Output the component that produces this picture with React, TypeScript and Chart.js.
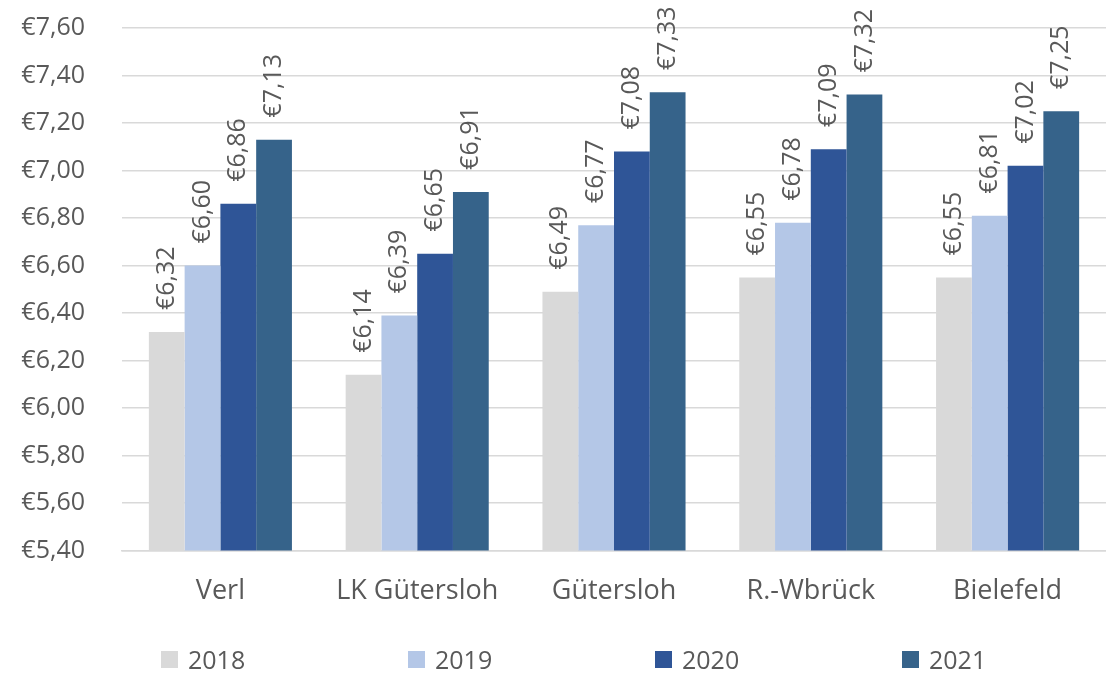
import React, { useEffect, useRef } from "react";
import { Chart, registerables } from "chart.js";

Chart.register(...registerables);

// Average hourly values per town, 2018–2021
const towns: string[] = ["Verl", "LK Gütersloh", "Gütersloh", "R.-Wbrück", "Bielefeld"];
const years: string[] = ["2018", "2019", "2020", "2021"];
const values2018: number[] = [6.32, 6.14, 6.49, 6.55, 6.55];
const values2019: number[] = [6.6, 6.39, 6.77, 6.78, 6.81];
const values2020: number[] = [6.86, 6.65, 7.08, 7.09, 7.02];
const values2021: number[] = [7.13, 6.91, 7.33, 7.32, 7.25];
const yearColors: string[] = ["#D9D9D9", "#B4C7E7", "#2F5597", "#36638A"];

const axisMin = 5.4;
const axisMax = 7.6;
const axisStep = 0.2;

const FONT = "'Open Sans', 'DejaVu Sans', sans-serif";
const TEXT = "#595959";

const euro = (v: number) => "€" + v.toFixed(2).replace(".", ",");

// Rotated value labels above each bar
const valueLabels = {
  id: "valueLabels",
  afterDatasetsDraw(chart: any) {
    const ctx = chart.ctx as CanvasRenderingContext2D;
    ctx.save();
    ctx.font = `25px ${FONT}`;
    ctx.fillStyle = TEXT;
    ctx.textAlign = "left";
    ctx.textBaseline = "middle";
    chart.data.datasets.forEach((ds: any, di: number) => {
      const meta = chart.getDatasetMeta(di);
      meta.data.forEach((bar: any, i: number) => {
        const v = ds.data[i] as number;
        ctx.save();
        ctx.translate(bar.x, bar.y - 22);
        ctx.rotate(-Math.PI / 2);
        ctx.fillText(euro(v), 0, 0);
        ctx.restore();
      });
    });
    ctx.restore();
  },
};

export default function App() {
  const canvasRef = useRef<HTMLCanvasElement | null>(null);

  useEffect(() => {
    if (!canvasRef.current) return;
    const series = [values2018, values2019, values2020, values2021];
    const chart = new Chart(canvasRef.current, {
      type: "bar",
      data: {
        labels: towns,
        datasets: years.map((y, i) => ({
          label: y,
          data: series[i],
          backgroundColor: yearColors[i],
          borderWidth: 0,
          barPercentage: 1,
          categoryPercentage: 0.727,
        })),
      },
      options: {
        responsive: false,
        animation: false,
        devicePixelRatio: 1,
        layout: { padding: { top: 28, right: 0, bottom: 40, left: 0 } },
        plugins: {
          legend: { display: false },
          tooltip: { enabled: false },
        },
        scales: {
          x: {
            grid: { display: false, drawTicks: false },
            border: { color: "#D9D9D9", width: 1.5 },
            ticks: {
              color: TEXT,
              font: { family: FONT, size: 27 },
              padding: 25,
              maxRotation: 0,
            },
          },
          y: {
            min: axisMin,
            max: axisMax,
            afterFit: (scale: any) => {
              scale.width = 122;
              scale.paddingTop = 0;
              scale.paddingBottom = 0;
            },
            grid: { color: "#D9D9D9", lineWidth: 1.5, drawTicks: false },
            border: { display: false },
            ticks: {
              stepSize: axisStep,
              color: TEXT,
              font: { family: FONT, size: 25 },
              padding: 37,
              callback: (v: any) => euro(Number(v)),
            },
          },
        },
      },
      plugins: [valueLabels],
    });
    return () => chart.destroy();
  }, []);

  return (
    <div
      style={{
        position: "absolute",
        left: 0,
        top: 0,
        width: 1106,
        height: 673,
        background: "#fff",
        overflow: "hidden",
      }}
    >
      <canvas ref={canvasRef} width={1106} height={673} style={{ display: "block" }} />
      <div
        style={{
          position: "absolute",
          left: 161,
          top: 642,
          display: "grid",
          gridTemplateColumns: "247px 247px 247px 200px",
          fontFamily: FONT,
          fontSize: 25,
          color: TEXT,
          lineHeight: "34px",
        }}
      >
        {years.map((y, i) => (
          <div key={y} style={{ display: "flex", alignItems: "center" }}>
            <span
              style={{
                display: "inline-block",
                width: 17,
                height: 17,
                background: yearColors[i],
                marginRight: 10,
              }}
            />
            <span>{y}</span>
          </div>
        ))}
      </div>
    </div>
  );
}
